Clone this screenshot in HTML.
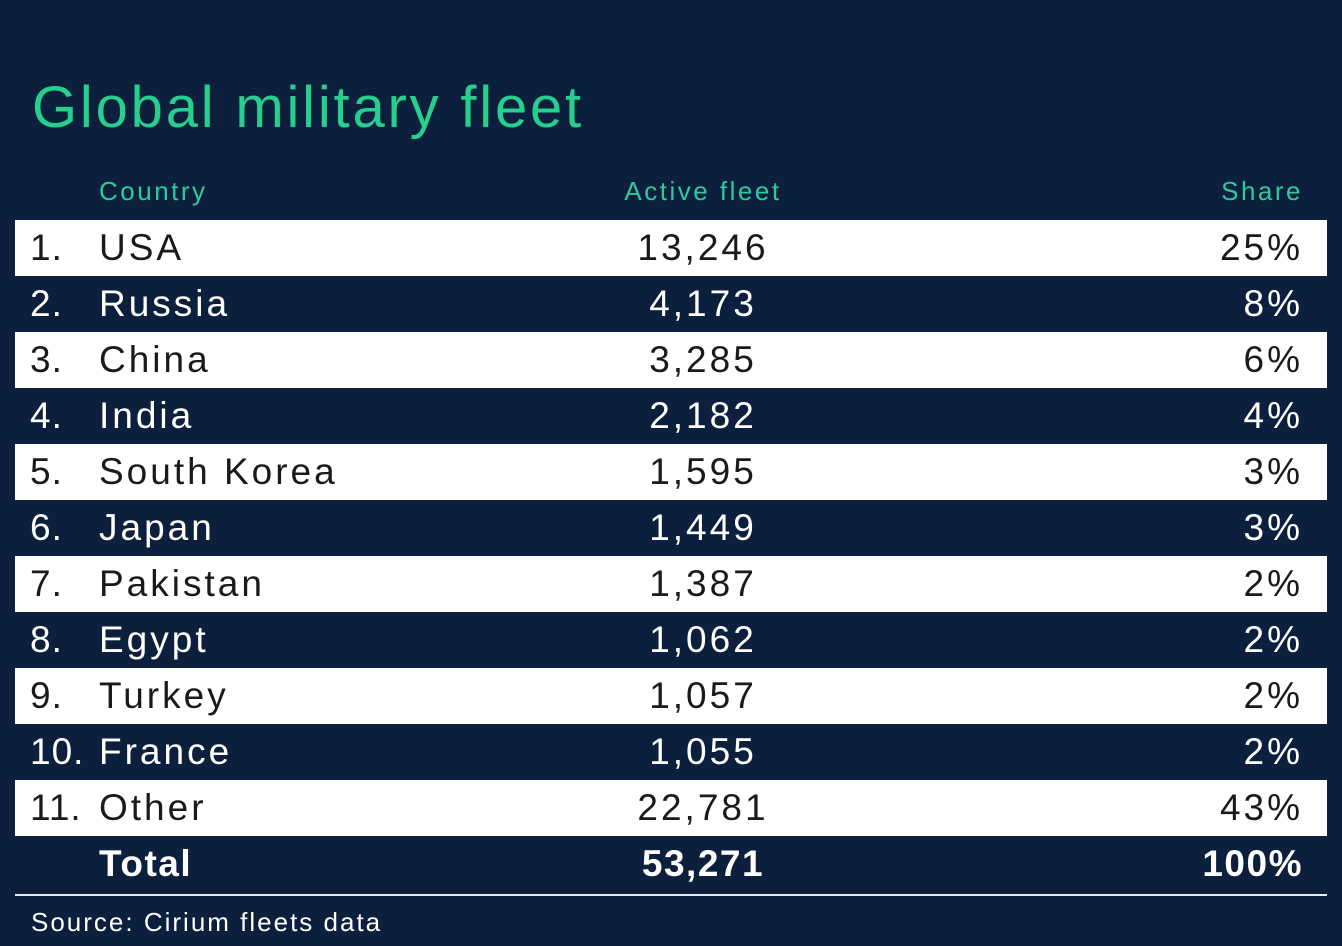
<!DOCTYPE html>
<html><head><meta charset="utf-8"><style>
body{margin:0;width:1342px;height:946px;background:#0c1f3c;font-family:"Liberation Sans",sans-serif;position:relative;overflow:hidden}
.t{position:absolute;left:32px;top:74px;font-size:58px;color:#27cf8e;letter-spacing:2.8px}
.h{position:absolute;top:176px;font-size:26px;color:#2fc9a0;letter-spacing:2.5px}
.r{position:absolute;left:15px;width:1312px;height:56px;font-size:37px;line-height:56px;color:#fff;letter-spacing:3px}
.w{background:#fff;color:#1a1a1a}
.r span{position:absolute}
.n{left:15px;letter-spacing:1px}.c{left:84px}.v{left:588px;width:200px;text-align:center}.s{right:24px}
.line{position:absolute;left:15px;width:1312px;top:894px;height:2px;background:#e8ecf2}
.src{position:absolute;left:31px;top:907px;font-size:26px;color:#fff;letter-spacing:2px}
</style></head><body>
<div class="t">Global military fleet</div>
<div class="h" style="left:99px">Country</div>
<div class="h" style="left:603px;width:200px;text-align:center">Active fleet</div>
<div class="h" style="right:39px">Share</div>
<div class="r w" style="top:220px"><span class="n">1.</span><span class="c">USA</span><span class="v">13,246</span><span class="s">25%</span></div>
<div class="r" style="top:276px"><span class="n">2.</span><span class="c">Russia</span><span class="v">4,173</span><span class="s">8%</span></div>
<div class="r w" style="top:332px"><span class="n">3.</span><span class="c">China</span><span class="v">3,285</span><span class="s">6%</span></div>
<div class="r" style="top:388px"><span class="n">4.</span><span class="c">India</span><span class="v">2,182</span><span class="s">4%</span></div>
<div class="r w" style="top:444px"><span class="n">5.</span><span class="c">South Korea</span><span class="v">1,595</span><span class="s">3%</span></div>
<div class="r" style="top:500px"><span class="n">6.</span><span class="c">Japan</span><span class="v">1,449</span><span class="s">3%</span></div>
<div class="r w" style="top:556px"><span class="n">7.</span><span class="c">Pakistan</span><span class="v">1,387</span><span class="s">2%</span></div>
<div class="r" style="top:612px"><span class="n">8.</span><span class="c">Egypt</span><span class="v">1,062</span><span class="s">2%</span></div>
<div class="r w" style="top:668px"><span class="n">9.</span><span class="c">Turkey</span><span class="v">1,057</span><span class="s">2%</span></div>
<div class="r" style="top:724px"><span class="n">10.</span><span class="c">France</span><span class="v">1,055</span><span class="s">2%</span></div>
<div class="r w" style="top:780px"><span class="n">11.</span><span class="c">Other</span><span class="v">22,781</span><span class="s">43%</span></div>
<div class="r" style="top:836px;font-weight:bold;letter-spacing:1.5px"><span class="c">Total</span><span class="v">53,271</span><span class="s">100%</span></div>
<div class="line"></div>
<div class="src">Source: Cirium fleets data</div>
</body></html>
